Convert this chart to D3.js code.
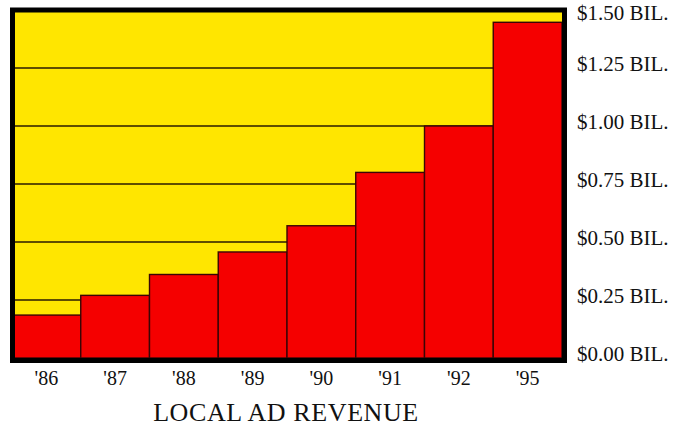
<!DOCTYPE html>
<html>
<head>
<meta charset="utf-8">
<script src="https://cdn.jsdelivr.net/npm/d3@7"></script>
<style>
  html, body { margin: 0; padding: 0; background: #fff; }
  svg { display: block; }
</style>
</head>
<body>
<div class="chart"></div>
<script>
// Local ad revenue, billions of dollars
const years = ["'86", "'87", "'88", "'89", "'90", "'91", "'92", "'95"];
const revenue = [0.185, 0.27, 0.36, 0.457, 0.57, 0.80, 1.0, 1.447];
const tickValues = [0, 0.25, 0.5, 0.75, 1.0, 1.25, 1.5];
const tickLabels = ["$0.00 BIL.", "$0.25 BIL.", "$0.50 BIL.", "$0.75 BIL.", "$1.00 BIL.", "$1.25 BIL.", "$1.50 BIL."];
const chartTitle = "LOCAL AD REVENUE";

const width = 679, height = 428;
const font = "'Liberation Serif', 'Times New Roman', serif";

const svg = d3.select('.chart')
  .append('svg')
    .attr('width', width)
    .attr('height', height);

// plot area
const x = d3.scaleBand()
  .domain(years)
  .range([12, 562])
  .padding(0);

const y = d3.scaleLinear()
  .domain([0, 1.5])
  .range([358, 10]);

// yellow background
svg.append('rect')
  .attr('x', 12)
  .attr('y', 10)
  .attr('width', 550)
  .attr('height', 348)
  .attr('fill', '#ffe600');

// gridlines (behind the bars)
svg.selectAll('.grid')
  .data(tickValues.filter(d => d > 0 && d < 1.5))
  .enter()
  .append('line')
    .attr('class', 'grid')
    .attr('x1', 12)
    .attr('x2', 562)
    .attr('y1', d => y(d))
    .attr('y2', d => y(d))
    .attr('stroke', '#2a1a00')
    .attr('stroke-width', 1.4);

// bars
svg.selectAll('.bar')
  .data(revenue)
  .enter()
  .append('rect')
    .attr('class', 'bar')
    .attr('x', (d, i) => x(years[i]))
    .attr('y', d => y(d))
    .attr('width', x.bandwidth())
    .attr('height', d => y(0) - y(d))
    .attr('fill', '#f50000')
    .attr('stroke', '#3a0505')
    .attr('stroke-width', 1.4);

// frame
svg.append('rect')
  .attr('x', 12.5)
  .attr('y', 10)
  .attr('width', 552)
  .attr('height', 350.5)
  .attr('fill', 'none')
  .attr('stroke', '#000')
  .attr('stroke-width', 5);

// y labels on the right
svg.selectAll('.ylab')
  .data(tickValues)
  .enter()
  .append('text')
    .attr('class', 'ylab')
    .attr('x', 577)
    .attr('y', d => Math.max(y(d) + 3, 20))
    .text((d, i) => tickLabels[i])
    .style('font-family', font)
    .style('font-size', '21px')
    .attr('fill', '#111');

// x labels
svg.selectAll('.xlab')
  .data(years)
  .enter()
  .append('text')
    .attr('class', 'xlab')
    .attr('x', d => x(d) + x.bandwidth() / 2)
    .attr('y', 385)
    .attr('text-anchor', 'middle')
    .text(d => d)
    .style('font-family', font)
    .style('font-size', '20px')
    .attr('fill', '#111');

// title
svg.append('text')
  .attr('x', 286)
  .attr('y', 421)
  .attr('text-anchor', 'middle')
  .text(chartTitle)
  .style('font-family', font)
  .style('font-size', '26px')
  .style('letter-spacing', '0.6px')
  .attr('fill', '#111');
</script>
</body>
</html>
